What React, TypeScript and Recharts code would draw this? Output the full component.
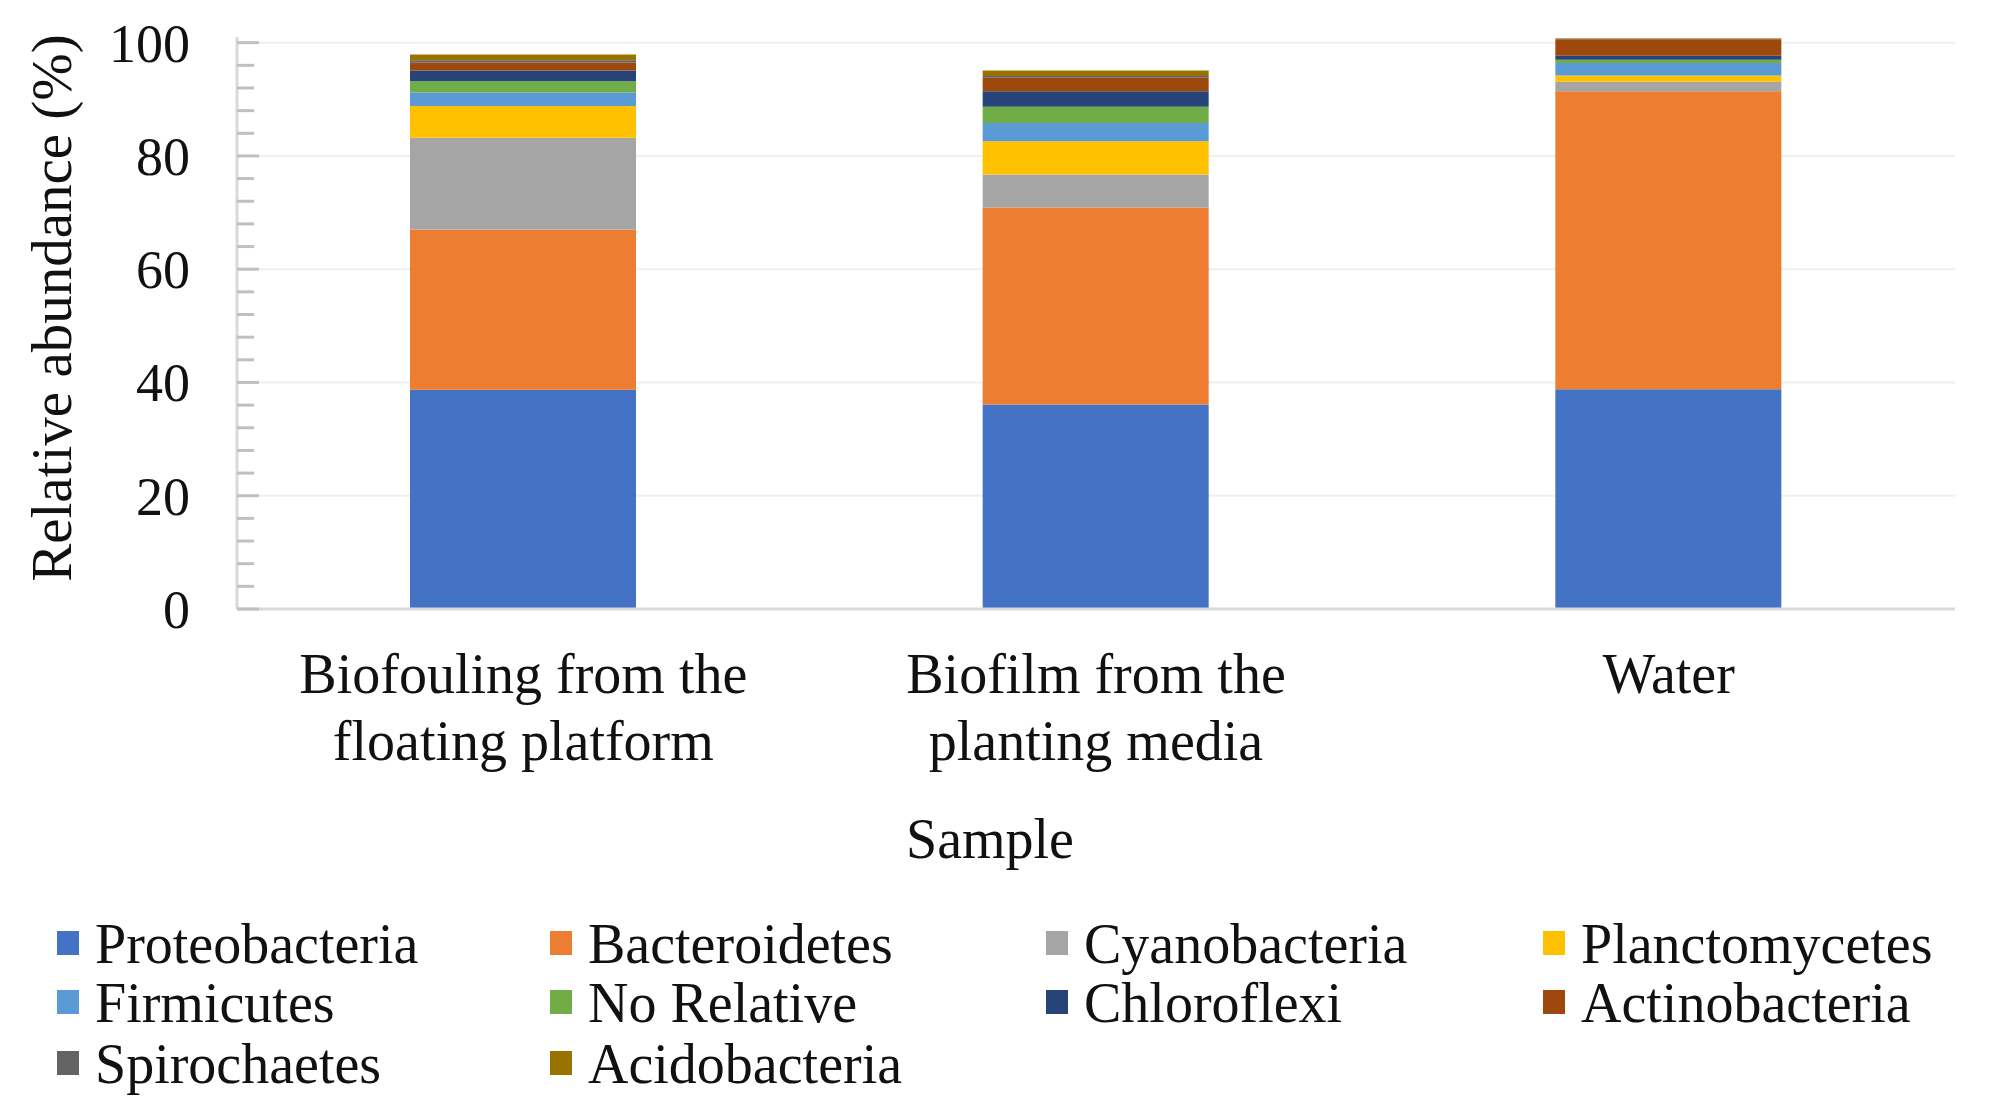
import React from "react";
import { BarChart, Bar, XAxis, YAxis, CartesianGrid, Label } from "recharts";

const categoryLines: string[][] = [
  ["Biofouling from the", "floating platform"],
  ["Biofilm from the", "planting media"],
  ["Water"],
];

const seriesNames = [
  "Proteobacteria",
  "Bacteroidetes",
  "Cyanobacteria",
  "Planctomycetes",
  "Firmicutes",
  "No Relative",
  "Chloroflexi",
  "Actinobacteria",
  "Spirochaetes",
  "Acidobacteria",
];

const seriesColors = [
  "#4472C4",
  "#ED7D31",
  "#A5A5A5",
  "#FFC000",
  "#5B9BD5",
  "#70AD47",
  "#264478",
  "#9E480E",
  "#636363",
  "#997300",
];

const proteobacteria = [38.7, 36.1, 38.8];
const bacteroidetes = [28.3, 34.8, 52.6];
const cyanobacteria = [16.2, 5.8, 1.7];
const planctomycetes = [5.6, 5.9, 1.1];
const firmicutes = [2.4, 3.2, 2.2];
const noRelative = [2.0, 2.9, 0.6];
const chloroflexi = [1.9, 2.7, 0.7];
const actinobacteria = [1.4, 2.4, 2.9];
const spirochaetes = [0.4, 0.3, 0.1];
const acidobacteria = [1.0, 1.0, 0.1];

const seriesValues = [
  proteobacteria,
  bacteroidetes,
  cyanobacteria,
  planctomycetes,
  firmicutes,
  noRelative,
  chloroflexi,
  actinobacteria,
  spirochaetes,
  acidobacteria,
];

const yTicks = [0, 4, 8, 12, 16, 20, 24, 28, 32, 36, 40, 44, 48, 52, 56, 60, 64, 68, 72, 76, 80, 84, 88, 92, 96, 100];
const gridValues = [20, 40, 60, 80, 100];

const data = categoryLines.map((lines, i) => {
  const row: Record<string, number | string> = { name: lines.join(" ") };
  seriesNames.forEach((s, k) => {
    row[s] = seriesValues[k][i];
  });
  return row;
});

const FONT = '"Liberation Serif", "Times New Roman", serif';
const TICK_MARGIN = 47;

const YTick = (props: any) => {
  const { x, y, payload } = props;
  const v = payload.value as number;
  const major = v % 20 === 0;
  const ax = x + TICK_MARGIN;
  return (
    <g>
      <line x1={ax} x2={ax + (major ? 22 : 17)} y1={y} y2={y} stroke="#c0c0c0" strokeWidth={3} />
      {major && (
        <text x={x} y={y} dy="0.35em" textAnchor="end" fontSize={54} fill="#111" fontFamily={FONT}>
          {v}
        </text>
      )}
    </g>
  );
};

const XTick = (props: any) => {
  const { x, y, index } = props;
  const lines = categoryLines[index] || [];
  return (
    <g>
      {lines.map((l, i) => (
        <text key={i} x={x} y={y + 84 + i * 67} textAnchor="middle" fontSize={56} fill="#111" fontFamily={FONT}>
          {l}
        </text>
      ))}
    </g>
  );
};

const legendCols = [57, 550, 1046, 1543];
const legendRows = [963, 1022, 1083];

export default function App() {
  return (
    <div style={{ position: "relative", width: 1994, height: 1117, background: "#fff" }}>
      <style>{`body{margin:0;background:#fff}`}</style>
      <BarChart
        width={1994}
        height={900}
        data={data}
        margin={{ top: 37, right: 39, bottom: 0, left: 0 }}
      >
        <CartesianGrid vertical={false} horizontalValues={gridValues} stroke="#efefef" strokeWidth={2} />
        <XAxis
          dataKey="name"
          height={291}
          interval={0}
          tickSize={0}
          tickMargin={0}
          tickLine={false}
          axisLine={{ stroke: "#d9d9d9", strokeWidth: 3 }}
          tick={<XTick />}
        >
          <Label
            content={() => (
              <text x={990} y={858} textAnchor="middle" fontSize={56} fill="#111" fontFamily={FONT}>
                Sample
              </text>
            )}
          />
        </XAxis>
        <YAxis
          width={237}
          domain={[0, 101]}
          ticks={yTicks}
          interval={0}
          tickSize={0}
          tickMargin={TICK_MARGIN}
          tickLine={false}
          axisLine={{ stroke: "#d9d9d9", strokeWidth: 3 }}
          tick={<YTick />}
        >
          <Label
            content={() => (
              <text
                x={71}
                y={308}
                transform="rotate(-90, 71, 308)"
                textAnchor="middle"
                fontSize={57}
                fill="#111"
                fontFamily={FONT}
              >
                Relative abundance (%)
              </text>
            )}
          />
        </YAxis>
        {seriesNames.map((s, k) => (
          <Bar key={s} dataKey={s} stackId="a" fill={seriesColors[k]} barSize={226} isAnimationActive={false} />
        ))}
      </BarChart>
      <svg
        width={1994}
        height={1117}
        style={{ position: "absolute", left: 0, top: 0, pointerEvents: "none" }}
      >
        {seriesNames.map((s, k) => {
          const col = k % 4;
          const row = Math.floor(k / 4);
          const x = legendCols[col];
          const base = legendRows[row];
          return (
            <g key={s}>
              <rect x={x} y={base - 32} width={22} height={24} fill={seriesColors[k]} />
              <text x={x + 38} y={base} fontSize={56} fill="#111" fontFamily={FONT}>
                {s}
              </text>
            </g>
          );
        })}
      </svg>
    </div>
  );
}
